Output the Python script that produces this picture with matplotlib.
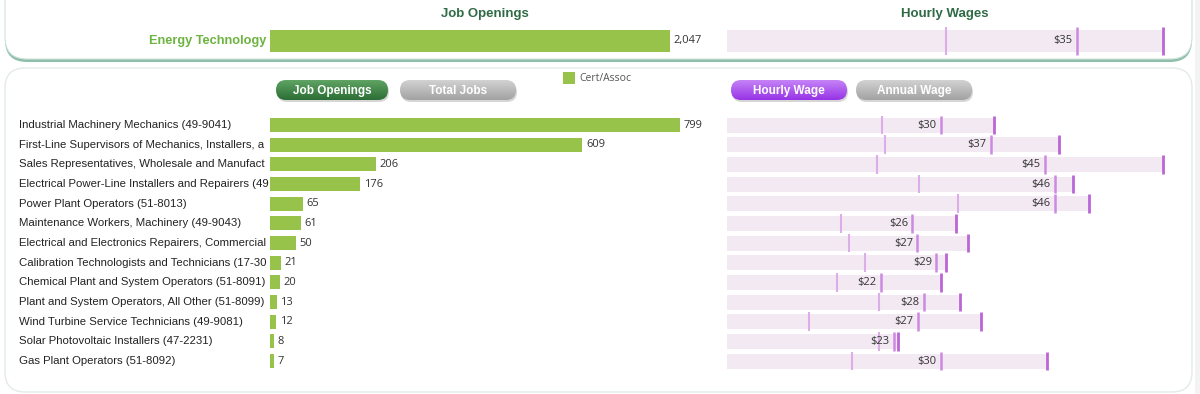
import numpy as np
import matplotlib.pyplot as plt
from matplotlib.patches import FancyBboxPatch, Rectangle
from matplotlib.colors import LinearSegmentedColormap

# ---- data ----
program = "Energy Technology"
program_openings = 2047
program_wage_low = 21.9
program_wage_median = 35
program_wage_high = 43.6

occupations = [
    "Industrial Machinery Mechanics (49-9041)",
    "First-Line Supervisors of Mechanics, Installers, and Repairers (49-1011)",
    "Sales Representatives, Wholesale and Manufacturing, Technical and Scientific Products (41-4011)",
    "Electrical Power-Line Installers and Repairers (49-9051)",
    "Power Plant Operators (51-8013)",
    "Maintenance Workers, Machinery (49-9043)",
    "Electrical and Electronics Repairers, Commercial and Industrial Equipment (49-2094)",
    "Calibration Technologists and Technicians (17-3028)",
    "Chemical Plant and System Operators (51-8091)",
    "Plant and System Operators, All Other (51-8099)",
    "Wind Turbine Service Technicians (49-9081)",
    "Solar Photovoltaic Installers (47-2231)",
    "Gas Plant Operators (51-8092)",
]
openings = [799, 609, 206, 176, 65, 61, 50, 21, 20, 13, 12, 8, 7]
wage_low = [21.8, 22.2, 21.1, 27.0, 32.4, 16.0, 17.1, 19.3, 15.4, 21.3, 11.5, 21.3, 17.6]
wage_median = [30, 37, 45, 46, 46, 26, 27, 29, 22, 28, 27, 23, 30]
wage_median_pos = [30.0, 37.0, 44.6, 46.0, 46.0, 26.0, 26.7, 29.4, 21.6, 27.6, 26.8, 23.4, 30.0]
wage_high = [37.5, 46.6, 61.2, 48.6, 50.8, 32.1, 33.8, 30.7, 30.0, 32.7, 35.7, 24.0, 44.9]

GREEN = '#97c34a'
WAGE_BG = '#f3e9f3'
LOW_C = '#dcaee8'
MED_C = '#cc8ae0'
HIGH_C = '#bb66d4'
TITLE_C = '#2f6b45'

W, H = 1200, 394
fig = plt.figure(figsize=(W / 100, H / 100), dpi=100)
renderer = fig.canvas.get_renderer()


def px_axes(x0, y0, w, h, **kw):
    return fig.add_axes([x0 / W, 1 - (y0 + h) / H, w / W, h / H], **kw)


# background axes in pixel coordinates
bg = px_axes(0, 0, W, H)
bg.set_xlim(0, W)
bg.set_ylim(H, 0)
bg.axis('off')
bg.set_zorder(-1)

bg.add_patch(Rectangle((1195, 0), 5, H, fc='#f3f3f3', ec='none'))
# top panel with green shadow
bg.add_patch(FancyBboxPatch((5, -40), 1187, 102, boxstyle='round,pad=0,rounding_size=22',
                            fc='#8dbfac', ec='none'))
bg.add_patch(FancyBboxPatch((5, -40), 1187, 99, boxstyle='round,pad=0,rounding_size=22',
                            fc='white', ec='#cfe2da', lw=0.8))
# bottom panel
bg.add_patch(FancyBboxPatch((5, 68), 1187, 324, boxstyle='round,pad=0,rounding_size=20',
                            fc='white', ec='#e2ebe7', lw=1))

bg.text(485, 14, "Job Openings", ha='center', va='center', fontsize=9.5,
        fontweight='bold', color=TITLE_C, family='Liberation Sans')
bg.text(945, 14, "Hourly Wages", ha='center', va='center', fontsize=9.5,
        fontweight='bold', color=TITLE_C, family='Liberation Sans')
bg.text(266, 41, program, ha='right', va='center', fontsize=9.2,
        fontweight='bold', color='#6cb33f', family='Liberation Sans')

# buttons (pill shapes with a vertical gradient)
buttons = [("Job Openings", 276, 112, '#5fa463', '#2c6e36'),
           ("Total Jobs", 400, 116, '#d2d2d2', '#a2a2a2'),
           ("Hourly Wage", 731, 116, '#c583f7', '#9733e6'),
           ("Annual Wage", 856, 116, '#d2d2d2', '#a2a2a2')]
grad = np.linspace(0, 1, 50).reshape(-1, 1)
for label, bx, bw, c_top, c_bot in buttons:
    bg.add_patch(FancyBboxPatch((bx + 1, 82), bw, 20, boxstyle='round,pad=0,rounding_size=10',
                                fc='#d6d6d6', ec='none', zorder=2))
    pill = FancyBboxPatch((bx, 80), bw, 20, boxstyle='round,pad=0,rounding_size=10',
                          fc='none', ec='none', zorder=2)
    bg.add_patch(pill)
    cmap = LinearSegmentedColormap.from_list('btn', [c_top, c_bot])
    im = bg.imshow(grad, cmap=cmap, extent=(bx, bx + bw, 100, 80), aspect='auto',
                   origin='upper', interpolation='bilinear', zorder=3)
    im.set_clip_path(pill)
    bg.text(bx + bw / 2, 90.5, label, ha='center', va='center', fontsize=8.5,
            fontweight='bold', color='white', family='Liberation Sans', zorder=4)
bg.set_xlim(0, W)
bg.set_ylim(H, 0)

# legend
bg.add_patch(Rectangle((563, 72), 12, 12, fc=GREEN, ec='none', zorder=2))
bg.text(579, 78, "Cert/Assoc", ha='left', va='center', fontsize=7.5, color='#555555',
        family='Open Sans')

# ---- top panel: program ----
ax_tj = px_axes(270, 25, 430, 32)
ax_tj.barh([0], [program_openings], height=0.69, color=GREEN)
ax_tj.set_xlim(0, 430 / 0.1954)
ax_tj.set_ylim(-0.5, 0.5)
ax_tj.axis('off')
ax_tj.annotate(f"{program_openings:,}", (program_openings, 0), xytext=(2.5, 0),
               textcoords='offset points', va='center', fontsize=8, color='#333333',
               family='Open Sans')

ax_tw = px_axes(727, 25, 443, 32)
ax_tw.barh([0], [program_wage_high], height=0.69, color=WAGE_BG)
ax_tw.vlines(program_wage_low, -0.44, 0.44, color=LOW_C, lw=1.5)
ax_tw.vlines(program_wage_median, -0.44, 0.44, color=MED_C, lw=1.8)
ax_tw.vlines(program_wage_high, -0.44, 0.44, color=HIGH_C, lw=2)
ax_tw.annotate(f"${program_wage_median}", (program_wage_median, 0), xytext=(-3, 0),
               textcoords='offset points', ha='right', va='center', fontsize=8,
               color='#333333', family='Open Sans')
ax_tw.set_xlim(0, 44.3)
ax_tw.set_ylim(-0.5, 0.5)
ax_tw.axis('off')

# ---- bottom panel: occupations ----
n = len(occupations)
rows = np.arange(n)
top_y, row_h = 115.2, 19.67

ax_lab = px_axes(0, top_y, 270, row_h * n)
ax_lab.set_xlim(0, 270)
ax_lab.set_ylim(n - 0.5, -0.5)
ax_lab.axis('off')
max_w = 270 - 19
for i, name in enumerate(occupations):
    t = ax_lab.text(19, i, name, ha='left', va='center', fontsize=8.2, color='#222222',
                    family='Liberation Sans')
    # cut long names at the bar edge, as the dashboard does
    s = name
    while t.get_window_extent(renderer).width > max_w and len(s) > 1:
        s = s[:-1]
        t.set_text(s)

ax_j = px_axes(270, top_y, 430, row_h * n)
ax_j.barh(rows, openings, height=0.72, color=GREEN)
for i, v in enumerate(openings):
    ax_j.annotate(str(v), (v, i), xytext=(2.5, 0), textcoords='offset points',
                  va='center', fontsize=8, color='#333333', family='Open Sans')
ax_j.set_xlim(0, 430 / 0.5131)
ax_j.set_ylim(n - 0.5, -0.5)
ax_j.axis('off')

ax_w = px_axes(727, top_y, 443, row_h * n)
ax_w.barh(rows, wage_high, height=0.76, color=WAGE_BG)
ax_w.vlines(wage_low, rows - 0.47, rows + 0.47, color=LOW_C, lw=1.5)
ax_w.vlines(wage_median_pos, rows - 0.47, rows + 0.47, color=MED_C, lw=1.8)
ax_w.vlines(wage_high, rows - 0.47, rows + 0.47, color=HIGH_C, lw=2)
for i in rows:
    ax_w.annotate(f"${wage_median[i]}", (wage_median_pos[i], i), xytext=(-3, 0),
                  textcoords='offset points', ha='right', va='center', fontsize=8,
                  color='#333333', family='Open Sans')
ax_w.set_xlim(0, 443 / 7.125)
ax_w.set_ylim(n - 0.5, -0.5)
ax_w.axis('off')

fig.savefig('out.png', dpi=100)
